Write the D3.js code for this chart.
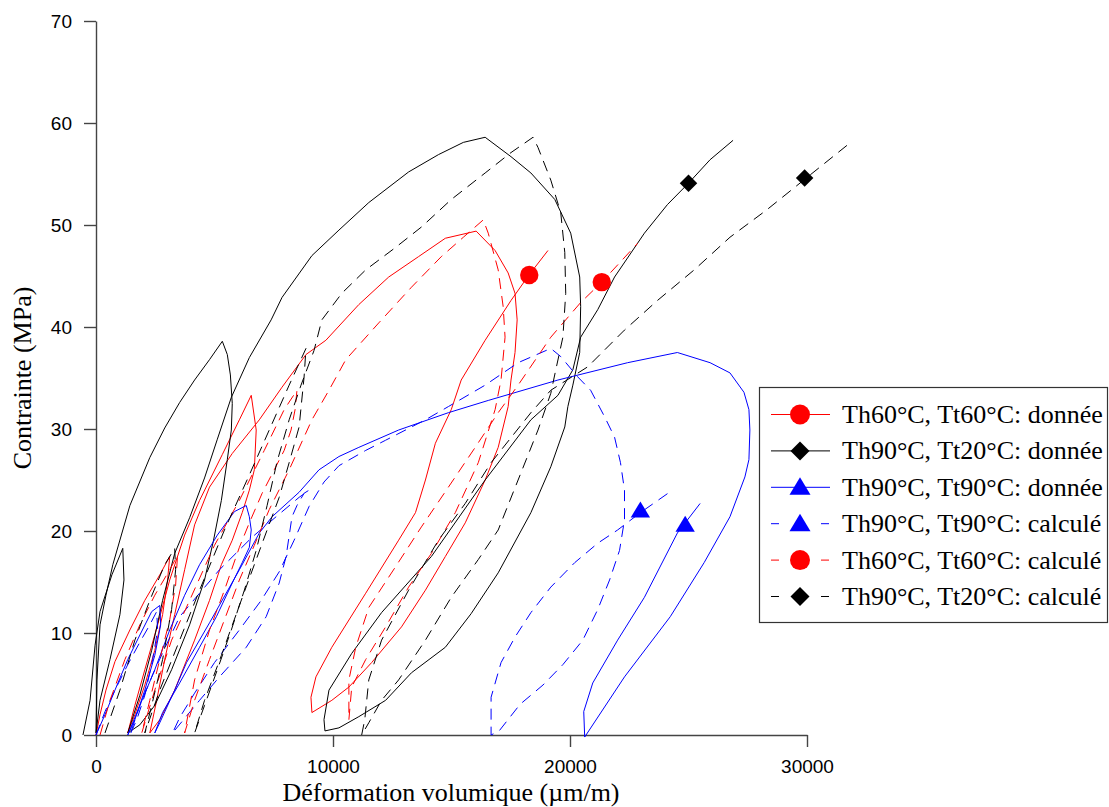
<html>
<meta charset="utf-8" />
<script src="https://d3js.org/d3.v7.min.js"></script>
<style>
  body { margin: 0; background: #fff; }
</style>
<body>
<svg id="chart" width="1109" height="807"></svg>
<script>
// axis ticks
const xTicks = [0, 10000, 20000, 30000];
const yTicks = [0, 10, 20, 30, 40, 50, 60, 70];

// legend labels (in drawing order)
const labels = [
  "Th60°C, Tt60°C: donnée",
  "Th90°C, Tt20°C: donnée",
  "Th90°C, Tt90°C: donnée",
  "Th90°C, Tt90°C: calculé",
  "Th60°C, Tt60°C: calculé",
  "Th90°C, Tt20°C: calculé"
];

// [déformation volumique (µm/m), contrainte (MPa)]
const redData = [
  [0,0],[170,2.0],[420,4.4],[800,7.2],[1430,10.3],[2060,13.2],[2690,15.7],[3110,17.5],
  [3020,15.2],[2810,11.8],[2480,8.3],[2060,4.9],[1640,2.0],[1340,0.2],
  [1640,2.9],[2060,6.4],[2600,10.8],[3110,15.2],[3740,19.6],[4370,23.0],[5330,27.5],[6050,30.9],[6550,33.3],
  [6760,29.9],[6680,26.0],[6470,24.0],[6170,21.8],[5750,19.1],[5290,16.7],[4790,13.2],[4160,9.3],[3320,4.4],[2690,1.5],[2270,0.2],
  [2560,3.4],[2900,7.4],[3320,11.8],[3740,16.2],[4160,20.6],[4790,24.3],[5750,27.6],[6890,30.9],[7850,34.1],[8860,37.3],[9700,38.7],
  [11090,42.2],[12350,44.9],[13610,46.9],[14740,48.7],[16040,49.4],
  [16840,47.5],[17390,45.3],[17680,43.3],[17770,40.7],[17680,37.5],[17510,34.8],[17390,32.2],[16970,28.2],[16420,25.0],
  [15580,20.8],[14740,17.5],[13900,14.2],[12890,10.6],[11630,7.1],[10670,4.7],[9950,3.4],[9110,2.2],
  [9070,3.7],[9280,5.7],[9950,8.6],[11380,13.9],[12770,19.1],[13480,21.8],[13900,25.0],[14320,28.6],[14990,31.9],
  [15410,34.8],[16420,38.7],[17510,42.6],[18270,45.1],[19070,47.5]
];
const blackData = [
  [-550,0],[-250,3.4],[-40,8.8],[170,12.1],[670,15.7],[1130,18.3],[1180,15.2],[1010,11.8],[590,7.4],[170,3.4],[0,0.2],
  [40,5.4],[170,10.8],[420,13.7],[710,16.7],[1430,22.5],[2270,27.2],[2900,30.1],[3530,32.6],[4160,34.8],[4790,36.8],[5330,38.6],
  [5540,37.3],[5670,35.3],[5750,32.5],[5710,29.9],[5540,27.0],[5290,23.0],[4960,19.1],[4580,15.2],[3950,10.8],[3190,6.4],
  [2480,2.9],[1850,1.0],[1340,0.2],
  [1850,3.9],[2350,8.3],[2810,13.2],[3320,17.8],[3950,21.3],[4580,25.2],[5120,29.0],[5710,33.1],[6470,37.0],[7390,40.7],
  [7850,42.9],[9110,47.0],[10250,49.5],[11510,52.2],[13190,55.2],[14450,56.9],[15500,58.1],[16420,58.6],
  [17510,56.7],[18350,55.1],[19360,52.5],[20030,49.2],[20410,44.9],[20450,42.0],[20410,37.5],[20120,34.3],[19910,32.2],
  [19780,30.2],[19190,26.3],[18350,21.8],[16970,15.9],[15830,11.9],[14740,8.6],[13310,6.1],[12220,3.4],[11090,1.8],
  [10250,0.7],[9660,0.4],
  [9620,1.5],[9830,4.4],[10790,8.0],[12050,12.0],[14150,17.5],[16420,25.0],[18350,30.9],[19490,33.3],[20120,35.8],
  [20450,39.0],[21170,41.7],[21880,44.9],[23140,49.2],[24110,52.0],[25000,54.1],[25910,56.4],[26880,58.3]
];
const blueData = [
  [0,0],[380,2.0],[800,4.4],[1340,7.4],[1850,9.8],[2350,12.1],[2690,12.7],[2730,10.8],[2480,7.8],[2060,4.4],[1640,1.5],[1340,0],
  [1850,2.9],[2480,6.4],[3110,10.3],[3740,13.7],[4370,16.7],[5120,19.6],[5840,21.9],[6340,22.5],
  [6470,21.4],[6550,20.1],[6470,18.4],[6170,16.9],[5750,14.9],[5080,11.6],[4370,8.6],[3530,5.1],[2810,2.2],[2480,0.2],
  [2690,1.2],[3320,4.4],[3820,7.1],[4790,11.0],[6050,16.2],[6890,19.8],[7430,21.4],[8570,23.8],[9410,26.0],[10250,27.3],
  [11090,28.2],[12770,29.9],[14870,31.6],[16550,32.8],[19490,34.8],[22430,36.5],[24530,37.5],
  [25910,36.5],[26750,35.5],[27340,33.6],[27550,31.9],[27590,29.9],[27550,27.0],[27380,25.3],[26750,21.4],[25660,16.9],
  [24230,11.6],[22300,5.7],[20620,-0.2],
  [20580,2.3],[20960,5.1],[22010,9.3],[23140,13.5],[24530,19.8],[25490,22.7]
];
const blueCalc = [
  [0,0],[380,2.3],[800,4.4],[1340,6.9],[1850,9.1],[2270,10.8],[2560,12.1],[2600,10.3],[2390,7.4],[2060,3.9],[1720,1.5],[1430,0],
  [1850,2.9],[2390,5.9],[2900,8.5],[3530,11.6],[4370,13.9],[5210,16.2],[6590,19.4],[7600,21.4],[8570,23.3],[8990,24.0],
  [8780,23.7],[8480,22.5],[8270,21.4],[8020,17.5],[7730,14.9],[7180,11.6],[6340,8.6],[5210,5.7],[4370,3.4],[3230,0.2],
  [3530,1.7],[4160,4.1],[5000,7.1],[6050,10.3],[6970,13.2],[7730,16.0],[8360,19.1],[8990,22.4],[9620,24.8],[10250,26.4],
  [11380,27.9],[12220,28.9],[13900,30.9],[14870,32.2],[16420,34.3],[17810,36.5],[19190,37.9],
  [19610,37.1],[20330,35.1],[20870,33.8],[21460,31.2],[21880,29.2],[22130,26.7],[22300,24.0],[22300,21.1],[22090,18.1],
  [21670,15.2],[21170,12.3],[20540,9.3],[19700,6.9],[18860,4.9],[17890,3.0],[17010,0.4],
  [16670,0],[16670,3.7],[17090,7.1],[17680,9.6],[18350,12.0],[19190,14.5],[20200,16.9],[21170,18.8],[22010,20.1],
  [22970,21.8],[24320,24.0]
];
const redCalc = [
  [170,0],[590,3.4],[1220,7.4],[1850,10.8],[2480,13.7],[3110,16.2],[3440,17.6],[3360,14.7],[3110,11.3],[2690,7.4],[2270,3.4],[1930,0.2],
  [2480,4.4],[3190,9.3],[3950,13.2],[5000,18.6],[6050,23.0],[7100,27.9],[7940,31.9],[8480,33.8],
  [8400,31.9],[8230,29.9],[7940,27.9],[7520,26.0],[7010,23.7],[6470,20.8],[6050,18.4],[5420,14.2],[4790,10.3],[4160,5.4],[3740,0.2],
  [4160,3.4],[4790,7.4],[5420,11.3],[6050,15.2],[6680,18.6],[7310,22.1],[8150,26.0],[9110,30.9],[9830,33.8],[10540,36.8],
  [11930,40.4],[13310,43.9],[14570,46.9],[15500,48.8],[16340,50.5],
  [16550,49.2],[16970,45.6],[17180,42.0],[17260,39.0],[17090,34.8],[16840,31.9],[16130,26.7],[15160,21.8],[14150,17.8],
  [13190,14.5],[12220,10.6],[11380,7.4],[10790,4.7],[10670,1.5],
  [10670,5.4],[10960,8.6],[11510,12.5],[12640,16.5],[13730,20.4],[14870,24.3],[16000,28.2],[16970,31.6],[17810,34.3],
  [19190,39.0],[20450,42.4],[21340,44.4],[22850,48.2]
];
const blackCalc = [
  [380,0.2],[1010,4.4],[1640,9.3],[2270,13.2],[2900,16.7],[3320,18.3],[3360,16.2],[3190,12.3],[2810,7.4],[2350,2.9],[2060,0.2],
  [2690,4.4],[3530,9.3],[4370,14.2],[5420,20.1],[6470,25.5],[7310,29.9],[8150,34.3],[8860,37.9],
  [8780,35.1],[8570,30.2],[8150,26.7],[7730,23.3],[7220,20.1],[6680,16.7],[6050,12.7],[5290,7.8],[4580,3.4],[4160,0.2],
  [4580,2.9],[5120,6.4],[5710,10.3],[6260,14.2],[6760,18.1],[7220,22.5],[7640,26.8],[8150,30.9],[8650,34.3],[9200,37.7],
  [9530,40.7],[10370,43.3],[11380,45.6],[12640,47.8],[13730,49.8],[14990,52.5],[16420,55.1],[17510,57.1],[18440,58.6],
  [18650,57.6],[19190,54.4],[19610,51.2],[19780,47.3],[19820,43.3],[19700,39.0],[19400,35.8],[19190,33.5],[18650,29.9],
  [17810,25.0],[16970,20.1],[16130,17.2],[14990,13.5],[13900,9.3],[12770,5.4],[12050,3.4],[11510,1.2],[11210,0],
  [11340,1.5],[11510,5.4],[12050,9.3],[13190,14.2],[14450,19.1],[15580,22.7],[16670,26.7],[18350,31.6],[19190,33.8],
  [20750,36.1],[22300,39.7],[23690,42.6],[25240,45.6],[26750,48.8],[28310,51.5],[29860,54.4],[31790,58.0]
];

// one marker per series
const redDataMark = [18280, 45.1];
const blackDataMark = [25000, 54.1];
const blueDataMark = [24860, 20.6];
const blueCalcMark = [22970, 22.0];
const redCalcMark = [21340, 44.4];
const blackCalcMark = [29900, 54.6];

const series = [
  { data: redData, mark: redDataMark, color: "#ff0000", dashed: false, shape: "circle" },
  { data: blackData, mark: blackDataMark, color: "#000000", dashed: false, shape: "diamond" },
  { data: blueData, mark: blueDataMark, color: "#0000ff", dashed: false, shape: "triangle" },
  { data: blueCalc, mark: blueCalcMark, color: "#0000ff", dashed: true, shape: "triangle" },
  { data: redCalc, mark: redCalcMark, color: "#ff0000", dashed: true, shape: "circle" },
  { data: blackCalc, mark: blackCalcMark, color: "#000000", dashed: true, shape: "diamond" }
];

const svg = d3.select("#chart");
const x = d3.scaleLinear().domain([0, 30000]).range([96, 807]);
const y = d3.scaleLinear().domain([0, 70]).range([735, 21]);

const tickFont = "'Liberation Sans', Arial, sans-serif";
const serif = "'Liberation Serif', 'Times New Roman', serif";

// axes
const yAxis = svg.append("g")
  .attr("transform", "translate(96,0)")
  .call(d3.axisLeft(y).tickValues(yTicks).tickSize(12).tickSizeOuter(0).tickPadding(12));
const xAxis = svg.append("g")
  .attr("transform", "translate(0,735)")
  .call(d3.axisBottom(x).tickValues(xTicks).tickSize(12).tickSizeOuter(0).tickPadding(13)
    .tickFormat(d3.format("d")));
[yAxis, xAxis].forEach(function (a) {
  a.selectAll("path.domain").attr("stroke", "#444").attr("stroke-width", 1.4);
  a.selectAll(".tick line").attr("stroke", "#444").attr("stroke-width", 1.4);
  a.selectAll(".tick text")
    .attr("font-family", tickFont)
    .attr("font-size", 19)
    .attr("fill", "#000");
});

// axis titles
svg.append("text")
  .attr("transform", "translate(31,378) rotate(-90)")
  .attr("text-anchor", "middle")
  .attr("font-family", serif)
  .attr("font-size", 26)
  .text("Contrainte (MPa)");
svg.append("text")
  .attr("x", 451)
  .attr("y", 801)
  .attr("text-anchor", "middle")
  .attr("font-family", serif)
  .attr("font-size", 26)
  .text("Déformation volumique (µm/m)");

const line = d3.line().x(d => x(d[0])).y(d => y(d[1]));

function drawMarker(g, shape, cx, cy, color, s) {
  if (shape === "circle") {
    g.append("circle").attr("cx", cx).attr("cy", cy).attr("r", 10 * s).attr("fill", color);
  } else if (shape === "diamond") {
    const r = 9.5 * s;
    g.append("path")
      .attr("d", `M${cx},${cy - r}L${cx + r},${cy}L${cx},${cy + r}L${cx - r},${cy}Z`)
      .attr("fill", color);
  } else {
    const w = 10.5 * s, t = 10 * s, b = 7.5 * s;
    g.append("path")
      .attr("d", `M${cx},${cy - t}L${cx + w},${cy + b}L${cx - w},${cy + b}Z`)
      .attr("fill", color);
  }
}

const plot = svg.append("g");
series.forEach(function (s) {
  plot.append("path")
    .datum(s.data)
    .attr("d", line)
    .attr("fill", "none")
    .attr("stroke", s.color)
    .attr("stroke-width", 1)
    .attr("stroke-dasharray", s.dashed ? "11,7" : null);
});
series.forEach(function (s) {
  drawMarker(plot, s.shape, x(s.mark[0]), y(s.mark[1]), s.color, 0.92);
});

// legend
const legend = svg.append("g");
legend.append("rect")
  .attr("x", 759.5).attr("y", 387.5)
  .attr("width", 348).attr("height", 235)
  .attr("fill", "#fff").attr("stroke", "#333").attr("stroke-width", 1.2);
series.forEach(function (s, i) {
  const ly = 414.5 + i * 36.4;
  legend.append("line")
    .attr("x1", 771).attr("x2", 830).attr("y1", ly).attr("y2", ly)
    .attr("stroke", s.color).attr("stroke-width", 1)
    .attr("stroke-dasharray", s.dashed ? "8,42" : null);
  drawMarker(legend, s.shape, 800, ly, s.color, 1);
  legend.append("text")
    .attr("x", 842).attr("y", ly)
    .attr("dominant-baseline", "central")
    .attr("font-family", serif)
    .attr("font-size", 26)
    .text(labels[i]);
});
</script>
</body>
</html>
